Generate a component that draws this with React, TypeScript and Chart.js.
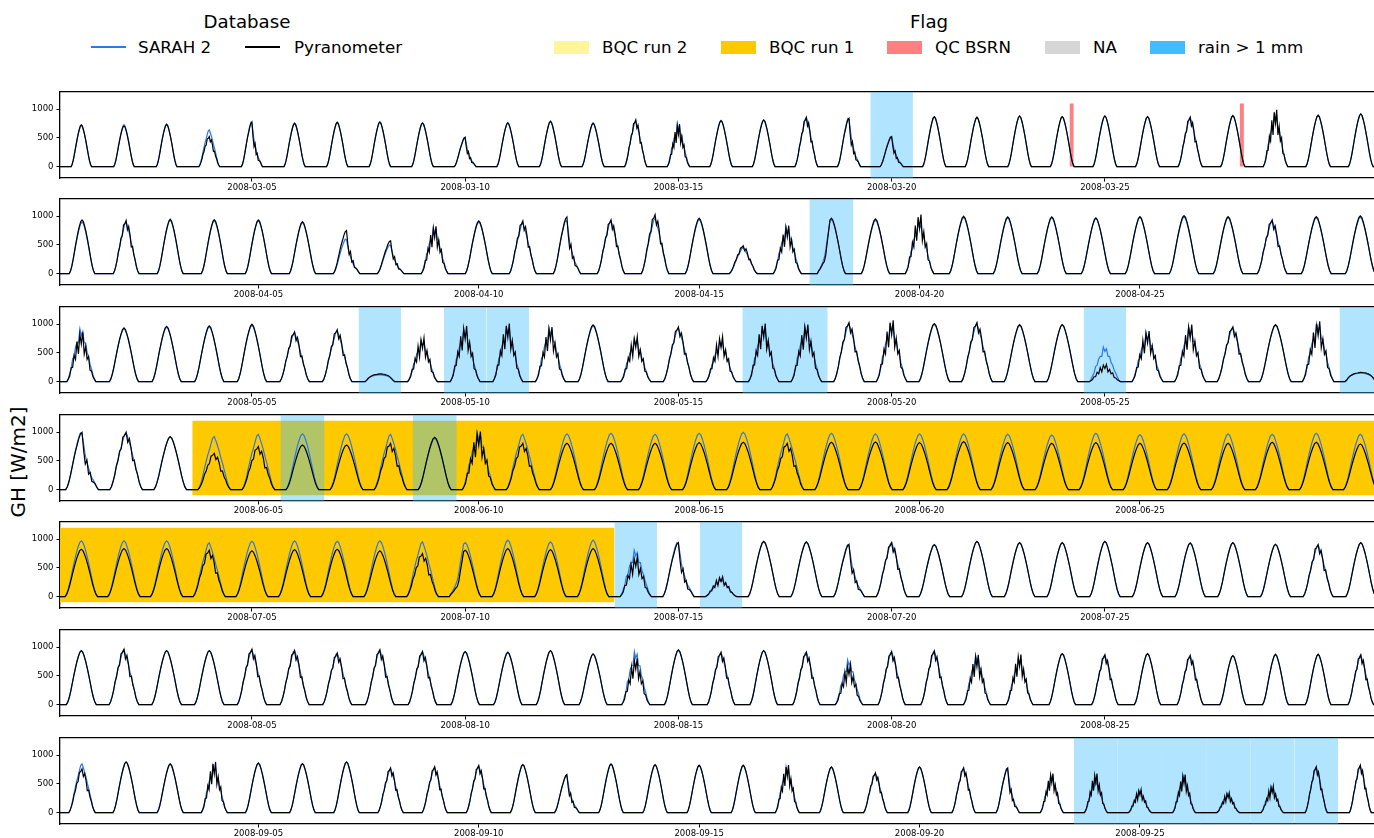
import React, { useEffect, useRef } from 'react';
import { Chart, registerables } from 'chart.js';
Chart.register(...registerables);

const FONT = '"DejaVu Sans", "Liberation Sans", sans-serif';

// ---------- data ----------
// daily peak values [W/m2]; sky type per day: 0 clear, 1 broken, 2 afternoon cloud, 3 strongly broken, 4 overcast, 5 morning cloud
const marPyr = [727,709,738,523,779,756,773,779,762,512,762,790,756,814,740,802,814,860,843,523,872,860,884,872,884,872,860,890,990,895,919];
const marSarah = [720,730,738,640,770,756,770,775,760,500,765,790,762,790,745,805,810,850,840,520,865,860,880,870,880,870,855,885,900,895,919];
const marSky = [0,0,0,1,2,0,0,0,0,2,0,0,0,1,3,0,0,1,2,2,0,0,0,0,0,0,1,0,3,0,0];

const aprPyr = [936,924,947,941,936,906,750,573,825,918,918,988,936,1029,965,485,836,965,953,1029,1000,988,988,971,994,1012,994,936,994,1006];
const aprSarah = [900,900,930,920,920,890,600,500,800,900,880,930,920,960,940,450,820,940,930,900,980,970,975,960,980,990,975,920,975,985];
const aprSky = [0,1,0,0,0,0,2,2,3,0,1,2,1,1,0,1,3,5,0,3,0,0,0,0,0,0,0,1,0,0];

const mayPyr = [860,936,965,971,1000,865,906,135,760,971,1012,953,988,784,953,784,1012,994,1029,1070,1012,1029,994,994,300,883,994,953,994,1053,160];
const maySarah = [920,920,950,955,980,850,880,120,720,900,950,940,970,750,930,700,950,960,1000,1000,1000,1000,980,990,600,850,950,940,980,1010,150];
const maySky = [3,0,0,0,0,1,1,4,3,3,3,3,0,3,1,3,3,3,1,3,0,1,0,0,3,3,3,1,0,3,4];

const junPyr = [1000,1000,924,634,750,779,779,808,913,1012,808,808,808,808,820,826,808,826,831,820,837,820,808,820,808,814,808,826,826,797];
const junSarah = [990,990,920,924,965,971,971,965,895,1000,965,971,983,965,983,1000,971,983,971,971,971,965,953,983,959,971,971,965,983,965];
const junSky = [2,1,0,1,1,0,0,1,0,3,1,0,0,0,0,0,1,0,0,0,0,0,0,0,0,0,0,0,0,0];

const julPyr = [826,837,837,808,797,820,826,797,750,808,837,820,837,692,942,347,965,953,913,942,907,965,942,942,965,942,936,942,913,907,942];
const julSarah = [971,971,971,936,965,971,965,971,953,942,983,953,983,808,942,300,955,950,900,940,900,960,940,940,960,940,930,940,910,900,940];
const julSky = [0,0,0,1,0,0,0,0,1,5,0,0,0,3,2,3,0,0,2,1,0,0,0,0,0,0,0,0,0,1,0];

const augPyr = [942,965,942,942,965,942,896,953,925,925,913,942,884,808,953,913,942,913,688,925,936,867,873,890,867,890,855,855,878,878,867];
const augSarah = [940,955,940,940,950,940,896,950,920,920,910,940,880,925,950,900,940,913,780,920,930,860,800,885,860,885,850,850,870,870,860];
const augSky = [0,1,0,0,1,1,1,1,1,0,0,0,0,3,0,1,0,1,3,1,1,3,3,0,1,0,1,0,0,0,1];

const sepPyr = [762,884,849,884,866,855,884,779,797,820,837,663,849,837,826,826,831,797,692,797,779,779,680,680,400,663,343,459,797,826];
const sepSarah = [849,880,845,820,860,850,880,760,780,810,835,640,840,830,820,820,800,790,680,790,770,760,650,560,380,640,330,450,790,810];
const sepSky = [1,0,0,3,0,0,0,1,1,1,0,2,0,0,0,0,3,0,1,0,1,2,3,3,3,3,3,3,1,1];

// daylight half-width (fraction of a day) at start and end of month
const marHw = [0.24, 0.29];
const aprHw = [0.29, 0.34];
const mayHw = [0.34, 0.37];
const junHw = [0.37, 0.38];
const julHw = [0.38, 0.35];
const augHw = [0.35, 0.30];
const sepHw = [0.30, 0.25];

// flags (day of month)
const marRain = [20];
const aprRain = [18];
const mayRain = [8, 10, 11, 17, 18, 25, 31];
const junRain = [6, 9];
const julRain = [14, 16];
const augRain: number[] = [];
const sepRain = [24, 25, 26, 27, 28, 29];
const junBqc1 = [[3.5, 30.5]];
const julBqc1 = [[0.5, 13.5]];
const marQc = [[24.17, 24.27], [28.16, 28.26]];

// normalized diurnal profile and sky modulation tables
const PROFILE = [0,0.05,0.14,0.26,0.40,0.54,0.67,0.79,0.89,0.97,1,0.97,0.89,0.79,0.67,0.54,0.40,0.26,0.14,0.05,0];
const PYR_SKY = [
  [1,1,1,1,1,1,1,1,1,1,1,1,1,1,1,1,1,1,1,1,1],
  [1,1,1,0.97,1.03,0.93,1.0,0.9,1.03,0.97,1.0,0.85,1.0,0.93,0.75,0.95,0.88,1.0,0.92,1,1],
  [1,1,1,1,1,1,1,0.98,1,1,1,0.7,0.5,0.65,0.4,0.55,0.35,0.5,0.7,0.9,1],
  [1,1.1,0.9,1.2,0.8,1.1,0.75,1.15,0.7,1.1,0.85,1.15,0.7,1.0,0.75,1.05,0.65,0.9,0.8,1,1],
  [1,3,2.8,2.2,1.7,1.45,1.3,1.15,1.05,1.0,1.0,1.02,1.08,1.2,1.3,1.5,1.8,2.2,2.6,3,1],
  [1,1,0.6,0.5,0.45,0.4,0.5,0.7,0.85,1.0,1,1,1,1,1,1,1,1,1,1,1],
];
const SAT_SKY = [
  [1,1,1,1,1,1,1,1,1,1,1,1,1,1,1,1,1,1,1,1,1],
  [1,1,1,1,1,0.98,0.97,0.95,0.97,1,1,0.95,0.93,0.92,0.9,0.92,0.95,1,1,1,1],
  [1,1,1,1,1,1,1,1,1,1,0.95,0.8,0.65,0.6,0.55,0.5,0.5,0.6,0.75,0.9,1],
  [1,1,1.1,0.9,1.05,0.85,0.95,0.9,0.8,1.0,0.85,0.95,0.8,0.9,0.8,0.85,0.8,0.9,0.9,1,1],
  [1,3,2.8,2.3,1.8,1.5,1.3,1.15,1.05,1,1,1,1.05,1.15,1.3,1.5,1.8,2.2,2.6,3,1],
  [1,1,0.7,0.6,0.55,0.55,0.65,0.8,0.9,1,1,1,1,1,1,1,1,1,1,1,1],
];

const yTicks = [0, 500, 1000];
const xTickDays = [5, 10, 15, 20, 25];
const dbLabels = ['SARAH 2', 'Pyranometer'];
const flagLabels = ['BQC run 2', 'BQC run 1', 'QC BSRN', 'NA', 'rain > 1 mm'];

// ---------- styles ----------
const SARAH_COLOR = '#2a78ec';
const PYR_COLOR = '#000000';
const RAIN_FILL = 'rgba(60,190,255,0.4)';
const BQC1_FILL = '#ffc900';
const QC_FILL = '#ff8080';
const flagColors = ['#fff59a', '#ffc900', '#ff8080', '#d6d6d6', '#3fbdff'];

const PANELS = [
  { ym: '2008-03', n: 31, pyr: marPyr, sat: marSarah, sky: marSky, hw: marHw, rain: marRain, bqc1: [] as number[][], qc: marQc },
  { ym: '2008-04', n: 30, pyr: aprPyr, sat: aprSarah, sky: aprSky, hw: aprHw, rain: aprRain, bqc1: [] as number[][], qc: [] as number[][] },
  { ym: '2008-05', n: 31, pyr: mayPyr, sat: maySarah, sky: maySky, hw: mayHw, rain: mayRain, bqc1: [] as number[][], qc: [] as number[][] },
  { ym: '2008-06', n: 30, pyr: junPyr, sat: junSarah, sky: junSky, hw: junHw, rain: junRain, bqc1: junBqc1, qc: [] as number[][] },
  { ym: '2008-07', n: 31, pyr: julPyr, sat: julSarah, sky: julSky, hw: julHw, rain: julRain, bqc1: julBqc1, qc: [] as number[][] },
  { ym: '2008-08', n: 31, pyr: augPyr, sat: augSarah, sky: augSky, hw: augHw, rain: augRain, bqc1: [] as number[][], qc: [] as number[][] },
  { ym: '2008-09', n: 30, pyr: sepPyr, sat: sepSarah, sky: sepSky, hw: sepHw, rain: sepRain, bqc1: [] as number[][], qc: [] as number[][] },
];

const PANEL_TOPS = [92, 199, 307, 415, 522, 630, 738];
const PAD_TOP = 8;
const PLOT_H = 86;
const XAX_H = 18;
const CANVAS_H = PAD_TOP + PLOT_H + XAX_H;
const YMIN = -200;
const YMAX = 1300;

function series(peaks: number[], skies: number[], hw: number[], table: number[][], xmin: number, xmax: number) {
  const pts: { x: number; y: number }[] = [{ x: xmin, y: 0 }];
  peaks.forEach((pk, k) => {
    const d = k + 1;
    const h = hw[0] + (hw[1] - hw[0]) * k / (peaks.length - 1);
    const m = table[skies[k]];
    const raw = PROFILE.map((p, i) => p * m[i]);
    const mx = Math.max(...raw);
    raw.forEach((v, i) => pts.push({ x: d + ((i - 10) / 10) * h, y: (pk * v) / mx }));
  });
  pts.push({ x: xmax, y: 0 });
  return pts;
}

function spanDataset(x0: number, x1: number, top: number, bottom: number | 'start', color: string, order: number) {
  return {
    type: 'line' as const,
    data: [{ x: x0, y: top }, { x: x1, y: top }],
    fill: bottom === 'start' ? 'start' : { value: bottom },
    backgroundColor: color,
    borderColor: 'rgba(0,0,0,0)',
    borderWidth: 0,
    pointRadius: 0,
    order,
    xAxisID: 'x',
    yAxisID: 'y',
  };
}

function makeConfig(p: (typeof PANELS)[number]): any {
  const xmin = 0.5;
  const xmax = p.n + 0.31;
  const datasets: any[] = [];
  p.bqc1.forEach(([a, b]) => datasets.push(spanDataset(a, b, 1200, -100, BQC1_FILL, 12)));
  p.rain.forEach((d) => datasets.push(spanDataset(d - 0.5, d + 0.5, YMAX, 'start', RAIN_FILL, 10)));
  p.qc.forEach(([a, b]) => datasets.push(spanDataset(a, b, 1100, 0, QC_FILL, 8)));
  datasets.push({
    type: 'line', label: dbLabels[0], data: series(p.sat, p.sky, p.hw, SAT_SKY, xmin, xmax),
    borderColor: SARAH_COLOR, borderWidth: 1.2, pointRadius: 0, fill: false, order: 2, tension: 0,
    xAxisID: 'x', yAxisID: 'y',
  });
  datasets.push({
    type: 'line', label: dbLabels[1], data: series(p.pyr, p.sky, p.hw, PYR_SKY, xmin, xmax),
    borderColor: PYR_COLOR, borderWidth: 1.2, pointRadius: 0, fill: false, order: 1, tension: 0,
    xAxisID: 'x', yAxisID: 'y',
  });
  const tickFont = { family: FONT, size: 8.5 };
  return {
    type: 'line',
    data: { datasets },
    options: {
      responsive: false,
      animation: false,
      devicePixelRatio: 1,
      parsing: false,
      normalized: true,
      events: [],
      layout: { padding: { top: PAD_TOP, left: 0, right: 0, bottom: 0 } },
      plugins: { legend: { display: false }, tooltip: { enabled: false }, title: { display: false } },
      scales: {
        x: {
          type: 'linear', position: 'bottom', min: xmin, max: xmax,
          afterBuildTicks: (s: any) => { s.ticks = xTickDays.map((v) => ({ value: v })); },
          afterFit: (s: any) => { s.height = XAX_H; },
          ticks: {
            callback: (v: number) => `${p.ym}-${String(v).padStart(2, '0')}`,
            font: tickFont, color: '#000', padding: 1, maxRotation: 0, autoSkip: false,
          },
          grid: { display: true, drawOnChartArea: false, drawTicks: true, tickLength: 3.5, color: '#000', lineWidth: 1 },
          border: { display: true, color: '#000', width: 1.3 },
        },
        xTop: {
          type: 'linear', position: 'top', min: xmin, max: xmax, display: true,
          afterFit: (s: any) => { s.height = 0; },
          ticks: { display: false },
          grid: { display: false },
          border: { display: true, color: '#000', width: 1.3 },
        },
        y: {
          type: 'linear', position: 'left', min: YMIN, max: YMAX,
          afterBuildTicks: (s: any) => { s.ticks = yTicks.map((v) => ({ value: v })); },
          afterFit: (s: any) => { s.width = 60; },
          ticks: { font: tickFont, color: '#000', padding: 3, callback: (v: number) => String(v) },
          grid: { display: true, drawOnChartArea: false, drawTicks: true, tickLength: 3.5, color: '#000', lineWidth: 1 },
          border: { display: true, color: '#000', width: 1.3 },
        },
      },
    },
  };
}

const textStyle: React.CSSProperties = {
  position: 'absolute', fontFamily: FONT, fontSize: 16.7, lineHeight: '17px', color: '#000', whiteSpace: 'nowrap',
};

export default function App() {
  const refs = useRef<(HTMLCanvasElement | null)[]>([]);
  useEffect(() => {
    document.body.style.margin = '0';
    const charts = PANELS.map((p, i) => new Chart(refs.current[i] as HTMLCanvasElement, makeConfig(p)));
    return () => charts.forEach((c) => c.destroy());
  }, []);

  const dbLineX = [91, 245];
  const dbTextX = [138, 294];
  const dbColors = [SARAH_COLOR, PYR_COLOR];
  const flagBoxX = [554, 721, 887, 1045, 1150];
  const flagTextX = [602, 769, 935, 1093, 1198];
  const rowY = 47;

  return (
    <div style={{ position: 'absolute', left: 0, top: 0, width: 1374, height: 838, background: '#fff', overflow: 'hidden' }}>
      <div style={{ ...textStyle, fontSize: 18.2, left: 247, top: 21, transform: 'translate(-50%,-50%)' }}>Database</div>
      <div style={{ ...textStyle, fontSize: 18.2, left: 929, top: 21, transform: 'translate(-50%,-50%)' }}>Flag</div>
      {dbLabels.map((l, i) => (
        <React.Fragment key={l}>
          <div style={{ position: 'absolute', left: dbLineX[i], top: rowY - 0.75, width: 35, height: 1.5, background: dbColors[i] }} />
          <div style={{ ...textStyle, left: dbTextX[i], top: rowY, transform: 'translateY(-50%)' }}>{l}</div>
        </React.Fragment>
      ))}
      {flagLabels.map((l, i) => (
        <React.Fragment key={l}>
          <div style={{ position: 'absolute', left: flagBoxX[i], top: rowY - 6.5, width: 35, height: 13, background: flagColors[i] }} />
          <div style={{ ...textStyle, left: flagTextX[i], top: rowY, transform: 'translateY(-50%)' }}>{l}</div>
        </React.Fragment>
      ))}
      <div style={{ ...textStyle, fontSize: 20, left: 18, top: 462, transform: 'translate(-50%,-50%) rotate(-90deg)' }}>GH [W/m2]</div>
      {PANELS.map((p, i) => (
        <canvas
          key={p.ym}
          ref={(el) => { refs.current[i] = el; }}
          width={1374}
          height={CANVAS_H}
          style={{ position: 'absolute', left: 0, top: PANEL_TOPS[i] - PAD_TOP, width: 1374, height: CANVAS_H }}
        />
      ))}
    </div>
  );
}
